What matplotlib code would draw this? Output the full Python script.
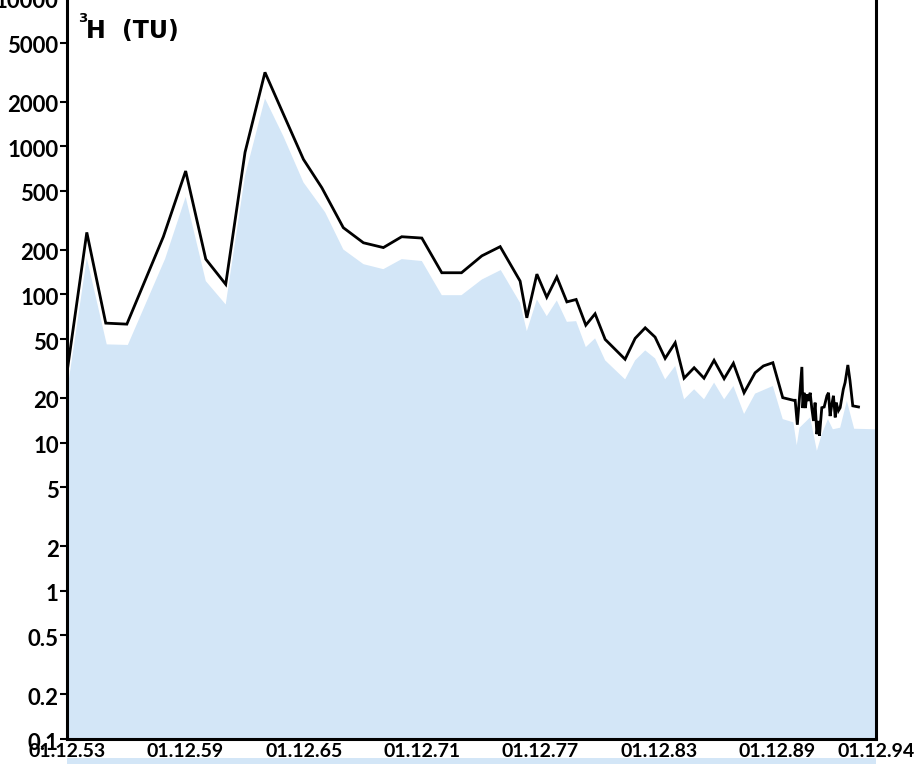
import matplotlib
matplotlib.use("Agg")
import matplotlib.pyplot as plt
from matplotlib.patches import Rectangle
import matplotlib.transforms as mtransforms

plt.rcParams['font.family'] = ['Lato', 'DejaVu Sans']
plt.rcParams['font.weight'] = 'bold'

# Tritium in precipitation: measured series (line)
line_years = [1953.92, 1954.92, 1955.88, 1956.95, 1958.80, 1959.93, 1960.95, 1961.96,
              1962.94, 1963.95, 1964.88, 1965.90, 1966.83, 1967.92, 1968.94, 1969.95,
              1970.88, 1971.90, 1972.91, 1973.91, 1974.94, 1975.87, 1976.88, 1977.22,
              1977.73, 1978.23, 1978.74, 1979.25, 1979.72, 1980.21, 1980.68, 1981.19,
              1982.20, 1982.71, 1983.22, 1983.72, 1984.23, 1984.74, 1985.19, 1985.70,
              1986.20, 1986.71, 1987.22, 1987.69, 1988.23, 1988.79, 1989.21, 1989.69,
              1990.19, 1990.73, 1990.82, 1990.93, 1991.16, 1991.21, 1991.27, 1991.34,
              1991.41, 1991.49, 1991.58, 1991.66, 1991.75, 1991.83, 1991.92, 1992.00,
              1992.05, 1992.17, 1992.29, 1992.43, 1992.51, 1992.59, 1992.68, 1992.76,
              1992.85, 1992.90, 1993.01, 1993.10, 1993.26, 1993.35, 1993.49, 1993.60,
              1993.74, 1994.03]
line_tu = [30, 262, 64, 63, 245, 680, 173, 117,
           910, 3150, 1650, 815, 525, 282, 223, 207,
           245, 240, 140, 140, 182, 210, 123, 69.5,
           137, 95.7, 131, 89, 92.4, 62, 74, 49.7,
           36.5, 50.5, 59.5, 51.5, 37, 47.2, 27.2, 32,
           27.2, 35.9, 27, 34.3, 21.7, 29.6, 32.9, 34.6,
           20.1, 19.3, 19.3, 13.2, 32.4, 17.1, 21.7, 17.1,
           21.2, 19.1, 21.7, 17.2, 14.0, 18.6, 11.4, 14.0,
           11.1, 17.2, 17.4, 20.7, 21.7, 15.1, 18.2, 20.7,
           14.8, 18.6, 16.4, 17.2, 22.9, 25.4, 33.4, 26.1,
           17.7, 17.4]

# Decay-corrected series (shaded area)
area_years = [1953.92, 1954.92, 1955.93, 1957.00, 1958.89, 1959.93, 1960.95, 1961.96,
              1962.94, 1963.95, 1964.88, 1965.90, 1967.00, 1967.92, 1968.94, 1969.95,
              1970.88, 1971.90, 1972.91, 1973.91, 1974.94, 1975.90, 1976.88, 1977.22,
              1977.73, 1978.23, 1978.74, 1979.25, 1979.72, 1980.21, 1980.68, 1981.19,
              1982.20, 1982.71, 1983.22, 1983.72, 1984.23, 1984.74, 1985.19, 1985.70,
              1986.20, 1986.71, 1987.22, 1987.69, 1988.23, 1988.79, 1989.69, 1990.19,
              1990.73, 1990.90, 1991.04, 1991.58, 1991.92, 1992.17, 1992.48, 1992.73,
              1993.10, 1993.44, 1993.81, 1994.92]
area_tu = [22, 176, 46, 45.6, 174, 455, 123, 85.5,
           635, 2100, 1170, 570, 358, 201, 160, 148,
           173, 168, 98.8, 98.8, 126, 146, 87.7, 56.5,
           92.4, 71.3, 91, 65.3, 66, 44.1, 50.5, 35.9,
           26.7, 35.9, 41.9, 37, 26.7, 32.9, 19.6, 22.9,
           19.6, 25.4, 19.6, 24.1, 15.6, 21.4, 24.1, 14.4,
           13.7, 9.6, 12.6, 14.8, 8.8, 11.4, 14.4, 12.3,
           12.6, 19.1, 12.4, 12.3]

tick_years = [1953, 1959, 1965, 1971, 1977, 1983, 1989, 1994]
tick_labels = ['01.12.53', '01.12.59', '01.12.65', '01.12.71',
               '01.12.77', '01.12.83', '01.12.89', '01.12.94']
y_ticks = [0.1, 0.2, 0.5, 1, 2, 5, 10, 20, 50, 100, 200, 500, 1000, 2000, 5000, 10000]
y_labels = ['0.1', '0.2', '0.5', '1', '2', '5', '10', '20', '50', '100',
            '200', '500', '1000', '2000', '5000', '10000']

W, H = 917, 764
fig = plt.figure(figsize=(W / 100, H / 100), dpi=100)
ax = fig.add_axes([67 / W, 25 / H, (876 - 67) / W, 741 / H])

fill_color = '#d3e6f7'
ax.fill_between(area_years, area_tu, 0.01, color=fill_color, lw=0, zorder=1)
ax.plot(line_years, line_tu, color='black', lw=2.0, solid_joinstyle='miter', zorder=3)

ax.set_yscale('log')
ax.set_ylim(0.1, 10000)
ax.set_xlim(1953 + 11 / 12, 1994 + 11 / 12)

ax.set_yticks(y_ticks)
ax.set_yticklabels(y_labels)
ax.yaxis.set_minor_locator(matplotlib.ticker.NullLocator())
ax.set_xticks([y + 11 / 12 for y in tick_years])
ax.set_xticklabels(tick_labels)

ax.tick_params(axis='y', direction='out', length=5, width=1.5, pad=1,
               labelsize=16, colors='black')
ax.tick_params(axis='x', length=0, pad=3, labelsize=14)
for lab in ax.get_xticklabels() + ax.get_yticklabels():
    lab.set_fontweight('bold')
# nudge the value labels slightly downward
shift = mtransforms.ScaledTranslation(0, -2 / 100, fig.dpi_scale_trans)
for lab in ax.get_yticklabels():
    lab.set_transform(lab.get_transform() + shift)

for side in ('left', 'right', 'bottom'):
    ax.spines[side].set_linewidth(2.2)
    ax.spines[side].set_color('black')
ax.spines['top'].set_visible(False)

# axis title: superscript mass number, symbol and unit
title_font = dict(family=['DejaVu Sans'], fontweight='bold', color='black')
fig.text(78 / W, 1 - 22 / H, '3', fontsize=9.5, **title_font)
fig.text(86 / W, 1 - 38 / H, 'H', fontsize=17, **title_font)
fig.text(122 / W, 1 - 38 / H, '(TU)', fontsize=17, **title_font)

# thin shaded strip along the bottom edge
trans = mtransforms.blended_transform_factory(ax.transData, fig.transFigure)
ax.add_patch(Rectangle((1953 + 11 / 12, 0), 41, 6 / H, transform=trans,
                       color=fill_color, clip_on=False, lw=0, zorder=0))

fig.savefig('out.png', dpi=100)
